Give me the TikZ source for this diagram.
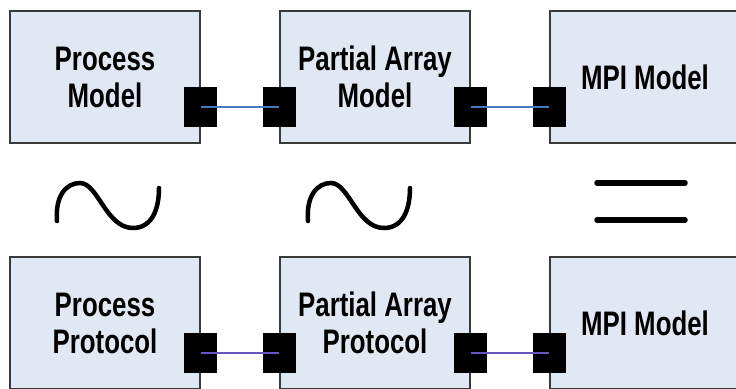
\documentclass[tikz,border=0pt]{standalone}
\usepackage{fontspec}
\newfontfamily\boxfont{Liberation Sans}[FakeStretch=0.76]
\usepackage{tikz}

\definecolor{boxfill}{HTML}{DFE8F3}
\definecolor{boxline}{HTML}{3A3A3A}
\definecolor{linkblue}{HTML}{4A78C0}
\definecolor{linkviolet}{HTML}{6555C0}

\tikzset{
  block/.style={draw=boxline, line width=1.2bp, fill=boxfill,
    minimum width=190bp, minimum height=132bp, inner sep=0pt,
    align=center, font=\boxfont\bfseries\fontsize{34bp}{37bp}\selectfont},
  port/.style={fill=black, minimum width=33bp, minimum height=40bp, inner sep=0pt},
  link/.style={draw=linkblue, line width=1.3bp},
  wave/.style={line width=4.5bp, line cap=round}
}

\begin{document}
\begin{tikzpicture}[x=1bp,y=-1bp]
				\useasboundingbox (0,0) rectangle (736,388);
				
				% Model row
				\node[block] (pmodel) at (105,77) {Process\\Model};
				\node[block] (pamodel) at (375,77) {Partial Array\\Model};
				\node[block] (mpimodel) at (645,77) {MPI Model};
				
				% Protocol row
				\node[block] (pproto) at (105,323) {Process\\Protocol};
				\node[block] (paproto) at (375,323) {Partial Array\\Protocol};
				\node[block] (mpiproto) at (645,323) {MPI Model};
				
				% Ports
				\node[port] (pmodel-out) at ([yshift=-30bp]pmodel.east) {};
				\node[port] (pamodel-in) at ([yshift=-30bp]pamodel.west) {};
				\node[port] (pamodel-out) at ([yshift=-30bp]pamodel.east) {};
				\node[port] (mpimodel-in) at ([yshift=-30bp]mpimodel.west) {};
				\node[port] (pproto-out) at ([yshift=-30bp]pproto.east) {};
				\node[port] (paproto-in) at ([yshift=-30bp]paproto.west) {};
				\node[port] (paproto-out) at ([yshift=-30bp]paproto.east) {};
				\node[port] (mpiproto-in) at ([yshift=-30bp]mpiproto.west) {};
				
				% Links
				\draw[link] (pmodel-out.center) -- (pamodel-in.center);
				\draw[link] (pamodel-out.center) -- (mpimodel-in.center);
				\draw[link, draw=linkviolet] (pproto-out.center) -- (paproto-in.center);
				\draw[link, draw=linkviolet] (paproto-out.center) -- (mpiproto-in.center);
				
				% Relations between the rows
				\draw[wave] (57,221) .. controls (55,196) and (66,183) .. (80,183)
				  .. controls (98,183) and (106,228) .. (133,228)
				  .. controls (151,228) and (159,211) .. (159,188);
				\draw[wave, shift={(251,0)}] (57,221) .. controls (55,196) and (66,183) .. (80,183)
				  .. controls (98,183) and (106,228) .. (133,228)
				  .. controls (151,228) and (159,211) .. (159,188);
				\draw[wave, line width=5.5bp] (597,183) -- (685,183);
				\draw[wave, line width=5.5bp] (597,220) -- (685,220);
				
			\end{tikzpicture}
\end{document}
